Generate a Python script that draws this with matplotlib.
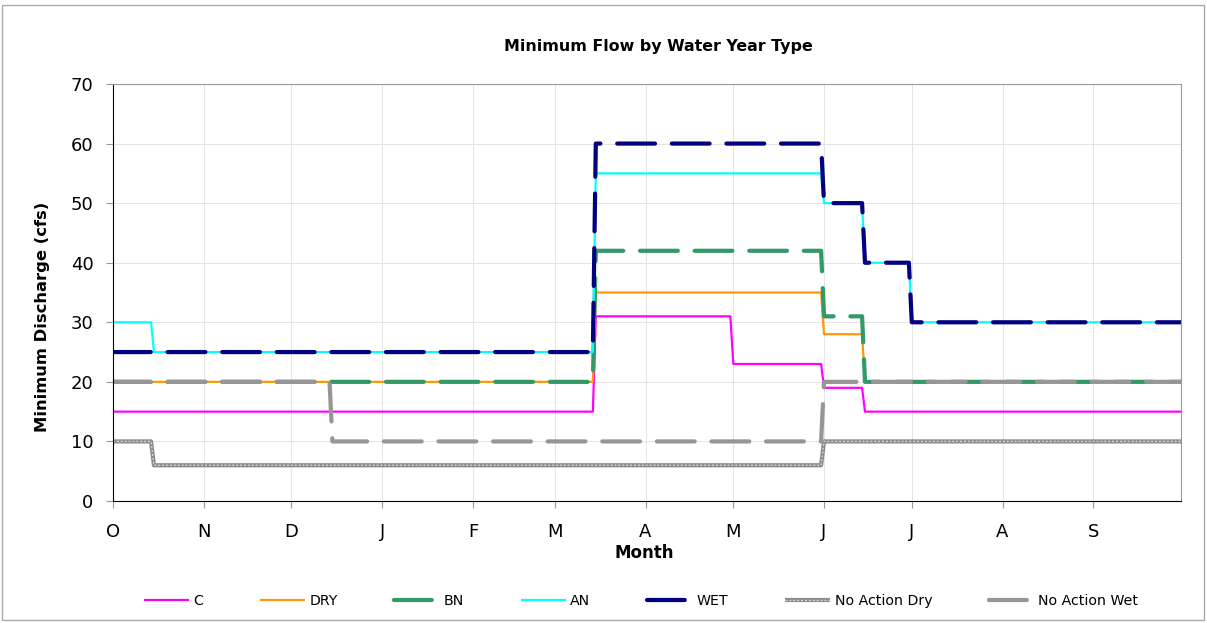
import matplotlib
matplotlib.use("Agg")
import matplotlib.pyplot as plt
from matplotlib.patches import Rectangle
import pandas as pd

plt.rcParams['font.family'] = ['DejaVu Sans']

# Water year span
start_date = "2009-10-01"
end_date = "2010-09-30"
axis_end = "2010-10-01"

month_labels = ['O', 'N', 'D', 'J', 'F', 'M', 'A', 'M', 'J', 'J', 'A', 'S']

# Step series: (change date, new value)
C_dates = ["2009-10-01", "2010-03-15", "2010-05-01", "2010-06-01", "2010-06-15"]
C_vals = [15, 31, 23, 19, 15]

DRY_dates = ["2009-10-01", "2010-03-15", "2010-06-01", "2010-06-15"]
DRY_vals = [20, 35, 28, 20]

BN_dates = ["2009-10-01", "2010-03-15", "2010-06-01", "2010-06-15"]
BN_vals = [20, 42, 31, 20]

AN_dates = ["2009-10-01", "2009-10-15", "2010-03-15", "2010-06-01", "2010-06-15", "2010-07-01"]
AN_vals = [30, 25, 55, 50, 40, 30]

WET_dates = ["2009-10-01", "2010-03-15", "2010-06-01", "2010-06-15", "2010-07-01"]
WET_vals = [25, 60, 50, 40, 30]

NAD_dates = ["2009-10-01", "2009-10-15", "2010-06-01"]
NAD_vals = [10, 6, 10]

NAW_dates = ["2009-10-01", "2009-12-15", "2010-06-01"]
NAW_vals = [20, 10, 20]

days = pd.date_range(start_date, axis_end, freq="D")


def daily(dates, vals):
    s = pd.Series(vals, index=pd.to_datetime(dates))
    return s.reindex(days).ffill()


fig = plt.figure(figsize=(12.07, 6.23), dpi=100)
ax = fig.add_axes([113 / 1207, 1 - 501 / 623, (1181 - 113) / 1207, (501 - 84) / 623])

px = 0.72  # points per pixel at 100 dpi

lc, = ax.plot(days, daily(C_dates, C_vals), color='#FF00FF', lw=2.2 * px, solid_capstyle='butt')
ld, = ax.plot(days, daily(DRY_dates, DRY_vals), color='#FF9900', lw=2.2 * px, solid_capstyle='butt')
lb, = ax.plot(days, daily(BN_dates, BN_vals), color='#339966', lw=4.2 * px,
              dashes=(9, 4), dash_capstyle='round')
la, = ax.plot(days, daily(AN_dates, AN_vals), color='#00FFFF', lw=2.2 * px, solid_capstyle='butt')
lw_, = ax.plot(days, daily(WET_dates, WET_vals), color='#000080', lw=4.2 * px,
               dashes=(9, 4), dash_capstyle='round')
lnd1, = ax.plot(days, daily(NAD_dates, NAD_vals), color='#8c8c8c', lw=4.2 * px, solid_capstyle='butt')
lnd2, = ax.plot(days, daily(NAD_dates, NAD_vals), color='#d8d8d8', lw=1.3 * px,
                dashes=(1.5, 1.5))
lnw, = ax.plot(days, daily(NAW_dates, NAW_vals), color='#969696', lw=4.2 * px,
               dashes=(9, 4), dash_capstyle='round')

ax.set_xlim(pd.Timestamp(start_date), pd.Timestamp(axis_end))
ax.set_ylim(0, 70)
ax.set_yticks(range(0, 71, 10))
ax.set_xticks(pd.date_range(start_date, end_date, freq="MS"))
ax.set_xticklabels(month_labels)

ax.grid(True, color='#e4e4e4', lw=0.7)
ax.set_axisbelow(True)
for s in ['top', 'right']:
    ax.spines[s].set_color('#999999')
for s in ['left', 'bottom']:
    ax.spines[s].set_color('black')
ax.tick_params(axis='both', colors='#999999', labelcolor='black', labelsize=13, length=5, direction='out')
ax.tick_params(axis='x', pad=11)
ax.tick_params(axis='y', pad=9)

fig.text(644 / 1207, 1 - 553 / 623, 'Month', fontsize=12, fontweight='bold', ha='center', va='center')
fig.text(43 / 1207, 1 - 317 / 623, 'Minimum Discharge (cfs)', fontsize=11.8, fontweight='bold',
         rotation=90, ha='center', va='center')
fig.text(658 / 1207, 1 - 47 / 623, 'Minimum Flow by Water Year Type', fontsize=11.4,
         fontweight='bold', ha='center', va='center')

fig.legend([lc, ld, lb, la, lw_, (lnd1, lnd2), lnw],
           ['C', 'DRY', 'BN', 'AN', 'WET', 'No Action Dry', 'No Action Wet'],
           loc='center', bbox_to_anchor=(641 / 1207, 1 - 601 / 623), ncol=7, frameon=False,
           fontsize=10.2, handlelength=3.2, handletextpad=0.3, columnspacing=4.0)

fig.patches.append(Rectangle((2 / 1207, 3 / 623), 1202 / 1207, 615 / 623, transform=fig.transFigure,
                             fill=False, edgecolor='#aaaaaa', lw=1))

fig.savefig('out.png', dpi=100)
